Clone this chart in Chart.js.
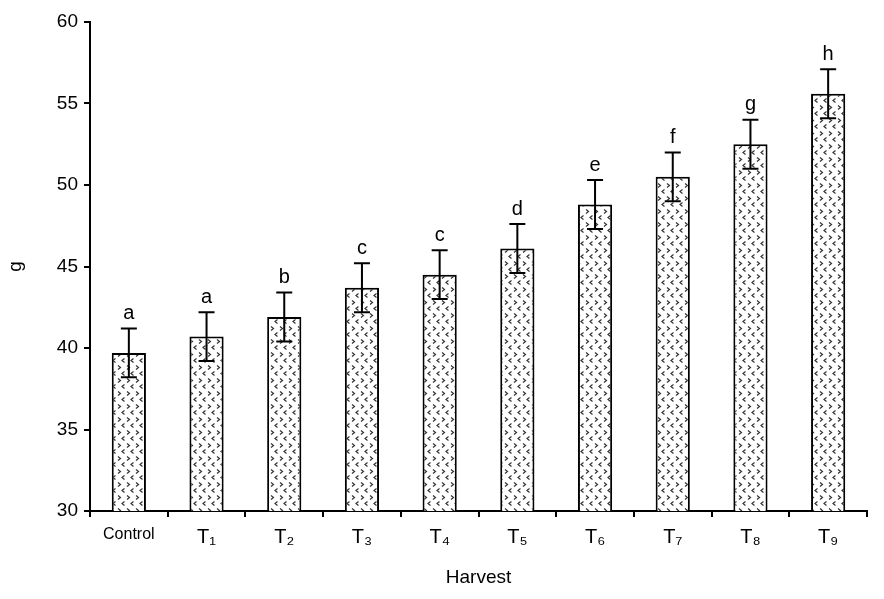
<!DOCTYPE html>
<html>
<head>
<meta charset="utf-8">
<script src="https://cdn.jsdelivr.net/npm/chart.js@4.4.0/dist/chart.umd.min.js"></script>
<style>
  body { margin: 0; background: #fff; }
  #wrap { width: 884px; height: 599px; }
</style>
</head>
<body>
<div id="wrap"><canvas id="myChart" width="884" height="599"></canvas></div>
<script>
const labels = ['Control', 'T\u2081', 'T\u2082', 'T\u2083', 'T\u2084', 'T\u2085', 'T\u2086', 'T\u2087', 'T\u2088', 'T\u2089']
const means = [39.7, 40.7, 41.9, 43.7, 44.5, 46.1, 48.8, 50.5, 52.5, 55.6]
const errors = [1.5, 1.5, 1.5, 1.5, 1.5, 1.5, 1.5, 1.5, 1.5, 1.5]
const letters = ['a', 'a', 'b', 'c', 'c', 'd', 'e', 'f', 'g', 'h']
const yTicks = [30, 35, 40, 45, 50, 55, 60]

// little chevron pattern for the bars
function makePattern() {
    const c = document.createElement('canvas')
    c.width = 9
    c.height = 13
    const p = c.getContext('2d')
    p.fillStyle = '#fff'
    p.fillRect(0, 0, 9, 13)
    p.strokeStyle = '#333'
    p.lineWidth = 1.2
    p.beginPath()
    // ">"
    p.moveTo(1, 1.5); p.lineTo(3.5, 3.5); p.lineTo(1, 5.5)
    // "<"
    p.moveTo(7.5, 7.5); p.lineTo(5, 9.5); p.lineTo(7.5, 11.5)
    p.stroke()
    return c
}

const ctx = document.getElementById('myChart').getContext('2d')
const pattern = ctx.createPattern(makePattern(), 'repeat')

const errorBars = {
    id: 'errorBars',
    afterDatasetsDraw(chart) {
        const c = chart.ctx
        const x = chart.scales.x
        const y = chart.scales.y
        c.save()
        c.strokeStyle = '#000'
        c.lineWidth = 2
        c.fillStyle = '#000'
        c.font = '20px "Liberation Sans", Arial, sans-serif'
        c.textAlign = 'center'
        c.textBaseline = 'bottom'
        means.forEach((m, i) => {
            const px = x.getPixelForValue(i)
            const top = y.getPixelForValue(m + errors[i])
            const bot = y.getPixelForValue(m - errors[i])
            c.beginPath()
            c.moveTo(px, top); c.lineTo(px, bot)
            c.moveTo(px - 8, top); c.lineTo(px + 8, top)
            c.moveTo(px - 8, bot); c.lineTo(px + 8, bot)
            c.stroke()
            c.fillText(letters[i], px, top - 5)
        })
        c.restore()
    }
}

const data = {
    labels,
    datasets: [{
        data: means,
        backgroundColor: pattern,
        borderColor: '#000',
        borderWidth: 2,
        borderSkipped: false,
        barPercentage: 0.44,
        categoryPercentage: 1
    }]
}

const config = {
    type: 'bar',
    data: data,
    plugins: [errorBars],
    options: {
        responsive: false,
        animation: false,
        layout: { padding: { top: 22, right: 17, bottom: 6, left: 0 } },
        plugins: {
            legend: { display: false },
            tooltip: { enabled: false }
        },
        scales: {
            x: {
                afterFit(s) { s.height = 82 },
                grid: {
                    drawOnChartArea: false,
                    color: '#000',
                    lineWidth: 2,
                    tickLength: 6,
                    offset: true
                },
                border: { color: '#000', width: 2 },
                ticks: {
                    color: '#000',
                    padding: 8,
                    font: ctx => ({
                        family: '"Liberation Sans", Arial, sans-serif',
                        size: ctx.index === 0 ? 16 : 20
                    })
                },
                title: {
                    display: true,
                    text: 'Harvest',
                    color: '#000',
                    padding: { top: 20 },
                    font: { family: '"Liberation Sans", Arial, sans-serif', size: 19 }
                }
            },
            y: {
                min: 30,
                max: 60,
                afterFit(s) { s.width = 90 },
                afterBuildTicks(s) { s.ticks = yTicks.map(v => ({ value: v })) },
                grid: {
                    drawOnChartArea: false,
                    color: '#000',
                    lineWidth: 2,
                    tickLength: 6
                },
                border: { color: '#000', width: 2 },
                ticks: {
                    color: '#000',
                    padding: 6,
                    font: { family: '"Liberation Sans", Arial, sans-serif', size: 19 }
                },
                title: {
                    display: true,
                    text: 'g',
                    color: '#000',
                    font: { family: '"Liberation Sans", Arial, sans-serif', size: 19 }
                }
            }
        }
    }
}

const myChart = new Chart(ctx, config)
</script>
</body>
</html>
